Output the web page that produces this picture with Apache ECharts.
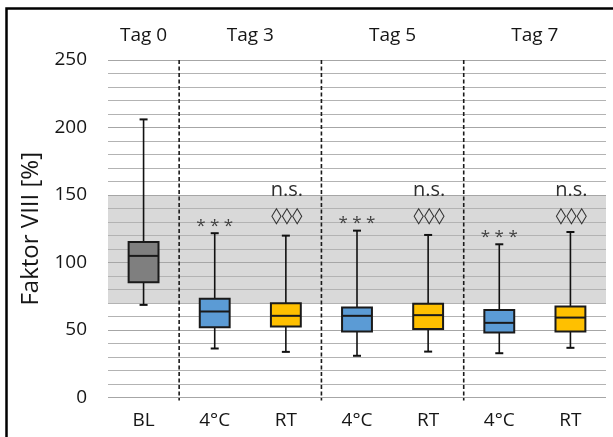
<!DOCTYPE html>
<html>
<head>
<meta charset="utf-8">
<script src="https://cdn.jsdelivr.net/npm/echarts@6/dist/echarts.min.js"></script>
<style>
  html, body { margin: 0; padding: 0; background: #ffffff; }
  #main { width: 613px; height: 437px; }
</style>
</head>
<body>
<div id="main"></div>
<script>
// Factor VIII activity (% of baseline) per storage day and temperature
const categories = ['BL', '4°C', 'RT', '4°C', 'RT', '4°C', 'RT'];
const whiskerLow  = [68.6, 36.3, 33.8, 30.9, 34.0, 32.8, 36.8];
const quartile1   = [85.4, 52.1, 52.6, 48.9, 50.8, 48.1, 48.9];
const median      = [104.9, 63.7, 60.5, 60.5, 61.0, 55.3, 59.2];
const quartile3   = [115.2, 73.1, 69.9, 66.6, 69.4, 64.9, 67.4];
const whiskerHigh = [206.0, 121.7, 119.9, 123.6, 120.4, 113.5, 122.6];

// Storage days, with the first and last category index of each
const days     = ['Tag 0', 'Tag 3', 'Tag 5', 'Tag 7'];
const dayFirst = [0, 1, 3, 5];
const dayLast  = [0, 2, 4, 6];

// Reference range (shaded band)
const referenceRange = [70, 150];

// Significance marks
const starsVsBaseline    = ['', '***', '', '***', '', '***', ''];
const diamondsVsBaseline = ['', '', '◊◊◊', '', '◊◊◊', '', '◊◊◊'];
const versus4C           = ['', '', 'n.s.', '', 'n.s.', '', 'n.s.'];

// Y axis ticks
const yMin = 0, yMax = 250, yStep = 50, yMinorSplits = 5;

const FONT = '"Open Sans", "DejaVu Sans", sans-serif';
const TEXT = '#161616';
const fillByCategory = { 'BL': '#7f7f7f', '4°C': '#5b9bd5', 'RT': '#ffc000' };

const boxData = categories.map((c, i) =>
  [i, whiskerLow[i], quartile1[i], median[i], quartile3[i], whiskerHigh[i]]);
const dayData = days.map((d, k) => [dayFirst[k], dayLast[k], k]);
const markData = categories.map((c, i) => [i, whiskerHigh[i]]);

function renderBox(params, api) {
  const i = api.value(0);
  const cx = api.coord([i, 0])[0];
  const bw = api.size([1, 0])[0] * 0.42;
  const y = k => api.coord([i, api.value(k)])[1];
  const yLo = y(1), yQ1 = y(2), yMed = y(3), yQ3 = y(4), yHi = y(5);
  const cap = 4;
  const line = { stroke: '#111111', lineWidth: 1.6 };
  const edge = { stroke: '#1a1a1a', lineWidth: 2 };
  return {
    type: 'group',
    children: [
      { type: 'line', shape: { x1: cx, y1: yHi, x2: cx, y2: yQ3 }, style: line },
      { type: 'line', shape: { x1: cx, y1: yQ1, x2: cx, y2: yLo }, style: line },
      { type: 'line', shape: { x1: cx - cap, y1: yHi, x2: cx + cap, y2: yHi }, style: { stroke: '#111111', lineWidth: 2 } },
      { type: 'line', shape: { x1: cx - cap, y1: yLo, x2: cx + cap, y2: yLo }, style: { stroke: '#111111', lineWidth: 2 } },
      { type: 'rect', shape: { x: cx - bw / 2, y: yQ3, width: bw, height: yQ1 - yQ3 },
        style: Object.assign({ fill: fillByCategory[categories[i]] }, edge) },
      { type: 'line', shape: { x1: cx - bw / 2, y1: yMed, x2: cx + bw / 2, y2: yMed }, style: edge }
    ]
  };
}

function renderDay(params, api) {
  const first = api.value(0), last = api.value(1), k = api.value(2);
  const xa = api.coord([first, yMax]);
  const xb = api.coord([last, yMax]);
  const half = api.size([1, 0])[0] / 2;
  const children = [{
    type: 'text',
    style: {
      x: (xa[0] + xb[0]) / 2, y: xa[1] - 24,
      text: days[k], fill: TEXT, font: '19px ' + FONT,
      align: 'center', verticalAlign: 'middle'
    }
  }];
  if (first > 0) {
    const xLine = xa[0] - half;
    const yBottom = api.coord([first, yMin])[1] + 3;
    children.push({
      type: 'line',
      shape: { x1: xLine, y1: xa[1], x2: xLine, y2: yBottom },
      style: { stroke: '#1a1a1a', lineWidth: 1.6, lineDash: [4, 2.5] }
    });
  }
  return { type: 'group', children };
}

function renderMarks(params, api) {
  const i = api.value(0);
  const top = api.coord([i, api.value(1)]);
  const bandTop = api.coord([i, referenceRange[1]])[1];
  const children = [];
  if (starsVsBaseline[i]) {
    children.push({ type: 'text', style: {
      x: top[0], y: top[1] - 7, text: starsVsBaseline[i].split('').join(' '),
      fill: '#404040', font: '17px ' + FONT, align: 'center', verticalAlign: 'middle' } });
  }
  if (diamondsVsBaseline[i]) {
    children.push({ type: 'text', x: top[0] + 1, y: bandTop + 22, scaleY: 0.78,
      style: { x: 0, y: 0, text: diamondsVsBaseline[i],
        fill: '#333333', font: 'bold 21px "DejaVu Sans", sans-serif', align: 'center', verticalAlign: 'middle' } });
  }
  if (versus4C[i]) {
    children.push({ type: 'text', style: {
      x: top[0] + 1, y: bandTop - 5, text: versus4C[i],
      fill: '#2e2e2e', font: '20px ' + FONT, align: 'center', verticalAlign: 'middle' } });
  }
  return { type: 'group', children };
}

function renderBand(params, api) {
  const cs = params.coordSys;
  const yTop = api.coord([0, referenceRange[1]])[1];
  const yBot = api.coord([0, referenceRange[0]])[1];
  return { type: 'rect', shape: { x: cs.x, y: yTop, width: cs.width, height: yBot - yTop },
           style: { fill: '#d9d9d9' } };
}

const chart = echarts.init(document.getElementById('main'), null, { renderer: 'canvas' });
chart.setOption({
  backgroundColor: '#ffffff',
  animation: false,
  textStyle: { fontFamily: FONT },
  grid: { left: 108, right: 7, top: 60, bottom: 39.5 },
  graphic: [{
    type: 'rect', silent: true,
    shape: { x: 6.5, y: 8.5, width: 640, height: 460 },
    style: { fill: null, stroke: '#000000', lineWidth: 2.5 }
  }],
  xAxis: {
    type: 'category', data: categories, boundaryGap: true,
    axisLine: { show: false }, axisTick: { show: false },
    axisLabel: { color: TEXT, fontSize: 19, fontFamily: FONT, margin: 14 }
  },
  yAxis: {
    type: 'value', min: yMin, max: yMax, interval: yStep,
    name: 'Faktor VIII [%]', nameLocation: 'middle', nameGap: 60,
    nameTextStyle: { color: TEXT, fontSize: 24, fontFamily: FONT },
    axisLine: { show: false }, axisTick: { show: false },
    axisLabel: { color: TEXT, fontSize: 19, fontFamily: FONT, margin: 21 },
    splitLine: { show: true, lineStyle: { color: '#a6a6a6', width: 1 } },
    minorTick: { show: false, splitNumber: yMinorSplits },
    minorSplitLine: { show: true, lineStyle: { color: '#b3b3b3', width: 1 } }
  },
  series: [
    { type: 'custom', name: 'band', z: -1, silent: true, data: [[0]], renderItem: renderBand },
    { type: 'custom', name: 'days', clip: false, silent: true, data: dayData,
      encode: { x: 0, y: 1 }, renderItem: renderDay },
    { type: 'custom', name: 'Faktor VIII', silent: true, data: boxData,
      encode: { x: 0, y: [1, 2, 3, 4, 5] }, renderItem: renderBox },
    { type: 'custom', name: 'marks', clip: false, silent: true, data: markData,
      encode: { x: 0, y: 1 }, renderItem: renderMarks }
  ]
});
</script>
</body>
</html>
